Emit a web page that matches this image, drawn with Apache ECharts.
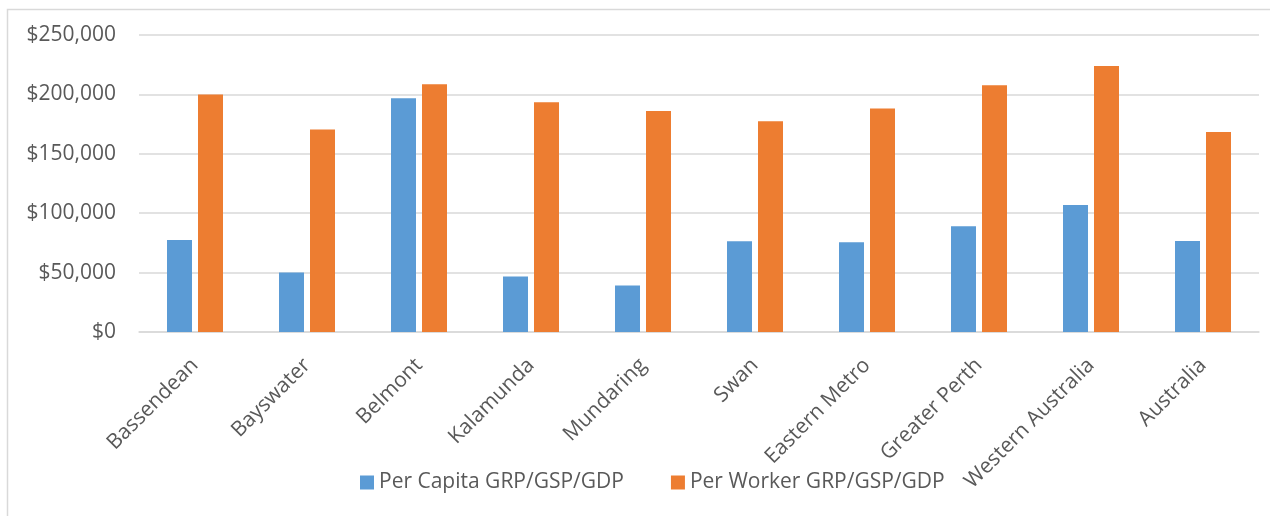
<!DOCTYPE html>
<html>
<head>
<meta charset="utf-8">
<title>GRP per capita and per worker</title>
<script src="https://cdn.jsdelivr.net/npm/echarts@6/dist/echarts.min.js"></script>
<style>
  html, body { margin: 0; padding: 0; background: #ffffff; }
  #chart { width: 1270px; height: 516px; }
</style>
</head>
<body>
<div id="chart"></div>
<script>
const categories = ['Bassendean', 'Bayswater', 'Belmont', 'Kalamunda', 'Mundaring', 'Swan', 'Eastern Metro', 'Greater Perth', 'Western Australia', 'Australia']
const perCapita = [77500, 50000, 196700, 46700, 39100, 76400, 75600, 89100, 106800, 76700]
const perWorker = [200000, 170500, 208500, 193300, 186000, 177300, 188200, 207600, 223900, 168300]
const yTicks = [0, 50000, 100000, 150000, 200000, 250000]

const BLUE = '#5b9bd5'
const ORANGE = '#ed7d31'
const TEXT = '#595959'
const GRID = '#d9d9d9'
const FONT = '"Open Sans", sans-serif'

const chart = echarts.init(document.getElementById('chart'), null, { renderer: 'canvas' })

const money = v => '$' + v.toLocaleString('en-US')

const option = {
  backgroundColor: '#ffffff',
  animation: false,
  graphic: [
    {
      type: 'rect',
      shape: { x: 7.5, y: 9.5, width: 1300, height: 520 },
      style: { fill: 'none', stroke: GRID, lineWidth: 1.5 },
      silent: true,
    },
  ],
  grid: {
    left: 139,
    right: 11,
    top: 35,
    bottom: 184,
  },
  legend: {
    left: 360,
    top: 472,
    padding: 0,
    icon: 'rect',
    itemWidth: 14,
    itemHeight: 14,
    itemGap: 47,
    textStyle: { color: TEXT, fontFamily: FONT, fontSize: 21 },
    data: ['Per Capita GRP/GSP/GDP', 'Per Worker GRP/GSP/GDP'],
  },
  xAxis: {
    type: 'category',
    data: categories,
    axisLine: { lineStyle: { color: GRID, width: 1.5 } },
    axisTick: { show: false },
    axisLabel: {
      color: TEXT,
      fontFamily: FONT,
      fontSize: 21,
      rotate: 45,
      margin: 30,
      interval: 0,
    },
  },
  yAxis: {
    type: 'value',
    min: yTicks[0],
    max: yTicks[yTicks.length - 1],
    interval: yTicks[1] - yTicks[0],
    axisLine: { show: false },
    axisTick: { show: false },
    axisLabel: {
      color: TEXT,
      fontFamily: FONT,
      fontSize: 21,
      margin: 23,
      formatter: money,
    },
    splitLine: { lineStyle: { color: GRID, width: 1.5 } },
  },
  series: [
    {
      name: 'Per Capita GRP/GSP/GDP',
      type: 'bar',
      data: perCapita,
      barWidth: 25,
      barGap: '24%',
      itemStyle: { color: BLUE },
    },
    {
      name: 'Per Worker GRP/GSP/GDP',
      type: 'bar',
      data: perWorker,
      barWidth: 25,
      barGap: '24%',
      itemStyle: { color: ORANGE },
    },
  ],
}

chart.setOption(option)
window.addEventListener('resize', () => chart.resize())
</script>
</body>
</html>
